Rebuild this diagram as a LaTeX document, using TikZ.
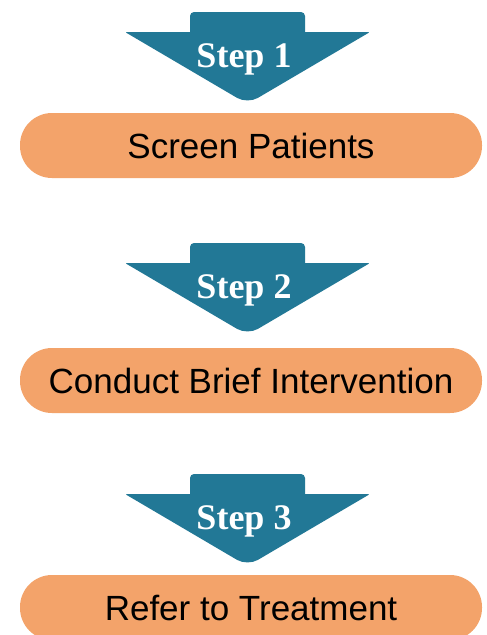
\documentclass[tikz,border=0pt]{standalone}
\usepackage{fontspec}
\setmainfont{Liberation Serif}
\setsansfont{Liberation Sans}

\definecolor{stepblue}{RGB}{34,120,150}
\definecolor{taskorange}{RGB}{243,163,106}

\tikzset{
    % arrow with a short stem, origin at the middle of the stem top
    stepshape/.pic={
        \fill[stepblue] (-57.5,20) [rounded corners=4pt] -- (-57.5,0) -- (57.5,0)
            [sharp corners] -- (57.5,20) [rounded corners=2pt] -- (122.5,20)
            [rounded corners=12pt] -- (0,92) [rounded corners=2pt] -- (-122.5,20)
            [sharp corners] -- cycle;
    },
    steplabel/.style={anchor=base, text=white, font=\fontsize{36}{36}\selectfont\bfseries},
    task/.style={fill=taskorange, rounded corners=32pt, minimum width=462pt,
        minimum height=65pt, text height=26pt, text depth=0pt, inner sep=0pt,
        font=\sffamily\fontsize{35}{35}\selectfont}
}

\begin{document}
\begin{tikzpicture}[x=1pt, y=-1pt]
        \clip (0,0) rectangle (487,635);
        \fill[white] (0,0) rectangle (487,635);

        % Шаги
        \pic at (247.5,12) {stepshape};
        \pic at (247.5,243) {stepshape};
        \pic at (247.5,474) {stepshape};

        \node[steplabel] (step1) at (244,67) {Step 1};
        \node[steplabel] (step2) at (244,298) {Step 2};
        \node[steplabel] (step3) at (244,529) {Step 3};

        % Действия
        \node[task] (screen) at (251,145.5) {Screen Patients};
        \node[task] (brief) at (251,380.5) {Conduct Brief Intervention};
        \node[task] (refer) at (251,607.5) {Refer to Treatment};
    \end{tikzpicture}
\end{document}
